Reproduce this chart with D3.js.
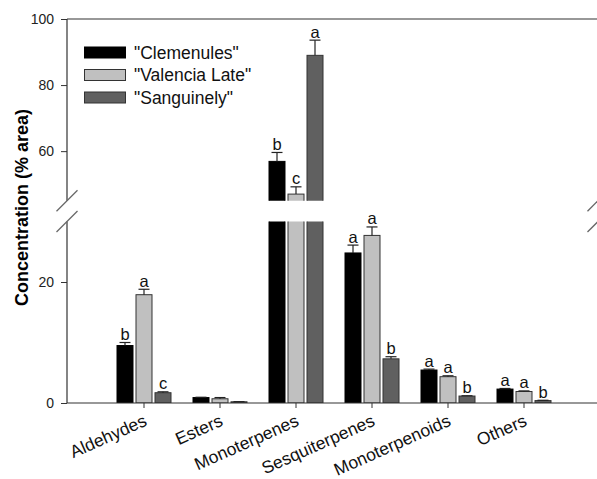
<!DOCTYPE html>
<html>
<head>
<meta charset="utf-8">
<script src="https://cdn.jsdelivr.net/npm/d3@7"></script>
<style>
  html, body { margin: 0; padding: 0; background: #fff; }
  svg { display: block; font-family: "Liberation Sans", Arial, sans-serif; }
</style>
</head>
<body>
<svg id="chart" width="597" height="479"></svg>
<script>
const categories = ["Aldehydes", "Esters", "Monoterpenes", "Sesquiterpenes", "Monoterpenoids", "Others"];
const seriesNames = ['"Clemenules"', '"Valencia Late"', '"Sanguinely"'];
const clemenules    = [9.5, 0.9, 56.9, 24.8, 5.45, 2.3];
const clemenulesErr = [0.5, 0.05, 2.7, 1.3, 0.15, 0.1];
const valencia      = [17.9, 0.7, 47.0, 27.7, 4.35, 1.9];
const valenciaErr   = [0.9, 0.2, 2.2, 1.4, 0.15, 0.1];
const sanguinely    = [1.7, 0.2, 89.0, 7.3, 1.15, 0.4];
const sanguinelyErr = [0.15, 0.02, 4.6, 0.35, 0.05, 0.05];
const lettersClem   = ["b", "", "b", "a", "a", "a"];
const lettersVal    = ["a", "", "c", "a", "a", "a"];
const lettersSang   = ["c", "", "a", "b", "b", "b"];
const upperTicks = [60, 80, 100];
const lowerTicks = [0, 20];
const colors = ["#000000", "#c0c0c0", "#606060"];
const strokes = ["#000000", "#333333", "#333333"];

const svg = d3.select("#chart");
const axisLeftX = 67, axisRightX = 598;

const yUpper = d3.scaleLinear().domain([45, 100]).range([200.7, 19]);
const yLower = d3.scaleLinear().domain([0, 30]).range([403, 221.5]);

const x0 = d3.scaleBand().domain(categories).range([106, 562]);
const x1 = d3.scaleBand().domain(seriesNames).range([0, 54]).paddingInner(0.158);

const values = [clemenules, valencia, sanguinely];
const errs = [clemenulesErr, valenciaErr, sanguinelyErr];
const letters = [lettersClem, lettersVal, lettersSang];

const rows = [];
categories.forEach((c, ci) => {
  seriesNames.forEach((s, si) => {
    rows.push({cat: c, ser: s, si, v: values[si][ci], e: errs[si][ci], l: letters[si][ci]});
  });
});

const barX = d => x0(d.cat) + x0.bandwidth() / 2 - 27 + x1(d.ser);
const bw = x1.bandwidth();

// clip paths
const defs = svg.append("defs");
defs.append("clipPath").attr("id", "clipLower").append("rect")
  .attr("x", axisLeftX).attr("y", yLower(30)).attr("width", axisRightX - axisLeftX).attr("height", yLower(0) - yLower(30));
defs.append("clipPath").attr("id", "clipUpper").append("rect")
  .attr("x", axisLeftX).attr("y", 0).attr("width", axisRightX - axisLeftX).attr("height", yUpper(45));

// lower bars
svg.append("g").attr("clip-path", "url(#clipLower)")
  .selectAll("rect").data(rows).join("rect")
  .attr("x", barX).attr("width", bw)
  .attr("y", d => yLower(Math.min(d.v, 31)))
  .attr("height", d => yLower(0) - yLower(Math.min(d.v, 31)))
  .attr("fill", d => colors[d.si]).attr("stroke", d => strokes[d.si]).attr("stroke-width", 1);

// upper bars
const upperRows = rows.filter(d => d.v > 45);
svg.append("g").attr("clip-path", "url(#clipUpper)")
  .selectAll("rect").data(upperRows).join("rect")
  .attr("x", barX).attr("width", bw)
  .attr("y", d => yUpper(d.v))
  .attr("height", d => yUpper(44) - yUpper(d.v))
  .attr("fill", d => colors[d.si]).attr("stroke", d => strokes[d.si]).attr("stroke-width", 1);

const yOf = v => v > 45 ? yUpper(v) : yLower(v);

// error bars
const eg = svg.append("g").attr("stroke", "#222").attr("stroke-width", 1.2);
rows.forEach(d => {
  const cx = barX(d) + bw / 2;
  const yT = yOf(d.v + d.e), yB = yOf(d.v);
  eg.append("line").attr("x1", cx).attr("x2", cx).attr("y1", yB).attr("y2", yT);
  eg.append("line").attr("x1", cx - 5.5).attr("x2", cx + 5.5).attr("y1", yT).attr("y2", yT);
});

// letters
svg.append("g").selectAll("text").data(rows.filter(d => d.l)).join("text")
  .attr("x", d => barX(d) + bw / 2)
  .attr("y", d => yOf(d.v + d.e) - 2.5)
  .attr("text-anchor", "middle")
  .attr("font-size", 16.5).attr("fill", "#111")
  .text(d => d.l);

// axes
const axisColor = "#333";
const upperAxis = svg.append("g").attr("transform", `translate(${axisLeftX},0)`)
  .call(d3.axisLeft(yUpper).tickValues(upperTicks).tickSize(6).tickPadding(7));
const lowerAxis = svg.append("g").attr("transform", `translate(${axisLeftX},0)`)
  .call(d3.axisLeft(yLower).tickValues(lowerTicks).tickSize(6).tickPadding(7));
[upperAxis, lowerAxis].forEach(g => {
  g.select(".domain").remove();
  g.selectAll(".tick line").attr("stroke", axisColor);
  g.selectAll(".tick text").attr("font-size", 14).attr("fill", "#222")
    .attr("font-family", "Liberation Sans, Arial, sans-serif");
});
// axis lines
svg.append("line").attr("x1", axisLeftX).attr("x2", axisLeftX).attr("y1", yUpper(100)).attr("y2", yUpper(45)).attr("stroke", axisColor).attr("stroke-width", 1.2);
svg.append("line").attr("x1", axisLeftX).attr("x2", axisLeftX).attr("y1", yLower(30)).attr("y2", yLower(0)).attr("stroke", axisColor).attr("stroke-width", 1.2);
svg.append("line").attr("x1", axisLeftX).attr("x2", axisRightX).attr("y1", yUpper(100)).attr("y2", yUpper(100)).attr("stroke", axisColor).attr("stroke-width", 1.2);

// bottom axis
const xAxis = svg.append("g").attr("transform", `translate(0,${yLower(0)})`)
  .call(d3.axisBottom(x0).tickSize(5).tickFormat(""));
xAxis.select(".domain").attr("d", `M${axisLeftX},0H${axisRightX}`).attr("stroke", axisColor).attr("stroke-width", 1.2);
xAxis.selectAll(".tick line").attr("stroke", axisColor);

svg.append("g").selectAll("text").data(categories).join("text")
  .attr("transform", c => `translate(${x0(c) + x0.bandwidth() / 2 + 4},${425}) rotate(-24)`)
  .attr("text-anchor", "end")
  .attr("font-size", 17.5).attr("fill", "#111")
  .text(c => c);

// break marks
const bg = svg.append("g").attr("stroke", "#666").attr("stroke-width", 1.3);
[axisLeftX, axisRightX].forEach(x => {
  [yUpper(45), yLower(30)].forEach(y => {
    bg.append("line").attr("x1", x - 10.5).attr("y1", y + 10.5).attr("x2", x + 10.5).attr("y2", y - 10.5);
  });
});

// y title
svg.append("text")
  .attr("transform", `translate(28,${(108 + 307) / 2}) rotate(-90)`)
  .attr("text-anchor", "middle")
  .attr("font-size", 18).attr("font-weight", "bold").attr("fill", "#000")
  .text("Concentration (% area)");

// legend
const lg = svg.append("g");
seriesNames.forEach((s, i) => {
  const y = 47 + i * 22.5;
  lg.append("rect").attr("x", 84.5).attr("y", y).attr("width", 41).attr("height", 11)
    .attr("fill", colors[i]).attr("stroke", strokes[i]).attr("stroke-width", 1);
  lg.append("text").attr("x", 134).attr("y", y + 11.5).attr("font-size", 17.5).attr("fill", "#111").text(s);
});
</script>
</body>
</html>
